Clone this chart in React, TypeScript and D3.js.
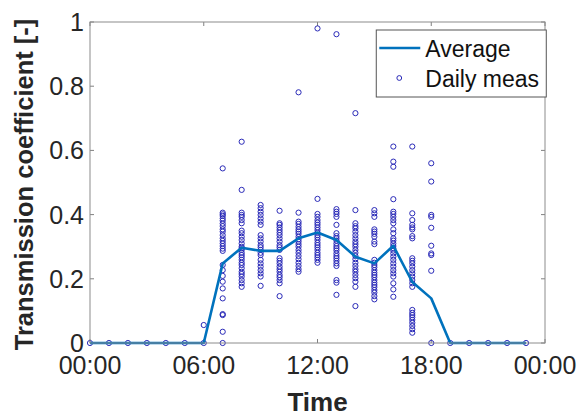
import { useEffect, useRef } from "react";
import * as d3 from "d3";

// hours of the day (0..23)
const hours = d3.range(0, 24);

// hourly average transmission coefficient
const averageValues = [
  0, 0, 0, 0, 0, 0, 0, 0.248, 0.297, 0.287, 0.287, 0.326, 0.344, 0.321, 0.269,
  0.248, 0.303, 0.19, 0.139, 0, 0, 0, 0, 0,
];

// daily measurements per hour
const dailyMeas: number[][] = [
  [0],
  [0],
  [0],
  [0],
  [0],
  [0],
  [0, 0.056],
  [
    0.544, 0.406, 0.401, 0.396, 0.388, 0.381, 0.372, 0.364, 0.354, 0.347, 0.336,
    0.326, 0.318, 0.31, 0.302, 0.294, 0.287, 0.243, 0.227, 0.209, 0.191, 0.17,
    0.139, 0.09, 0.087, 0.035, 0,
  ],
  [
    0.627, 0.477, 0.406, 0.399, 0.393, 0.383, 0.373, 0.35, 0.342, 0.331, 0.321,
    0.31, 0.3, 0.295, 0.29, 0.281, 0.274, 0.267, 0.259, 0.25, 0.243, 0.233,
    0.222, 0.215, 0.207, 0.196, 0.186, 0.175,
  ],
  [
    0.43, 0.42, 0.409, 0.399, 0.388, 0.378, 0.368, 0.336, 0.326, 0.316, 0.305,
    0.298, 0.29, 0.281, 0.274, 0.259, 0.248, 0.238, 0.227, 0.217, 0.207, 0.178,
  ],
  [
    0.412, 0.373, 0.368, 0.36, 0.352, 0.344, 0.336, 0.326, 0.316, 0.305, 0.298,
    0.29, 0.264, 0.256, 0.248, 0.238, 0.23, 0.222, 0.212, 0.205, 0.196, 0.186,
    0.146,
  ],
  [
    0.781, 0.406, 0.378, 0.371, 0.362, 0.354, 0.347, 0.34, 0.331, 0.323, 0.316,
    0.308, 0.3, 0.29, 0.281, 0.271, 0.261, 0.25, 0.24, 0.23, 0.222,
  ],
  [
    0.98, 0.449, 0.402, 0.393, 0.383, 0.375, 0.368, 0.36, 0.352, 0.344, 0.336,
    0.329, 0.321, 0.312, 0.305, 0.298, 0.29, 0.281, 0.274, 0.267, 0.259, 0.25,
  ],
  [
    0.962, 0.417, 0.409, 0.402, 0.393, 0.368, 0.342, 0.333, 0.326, 0.319, 0.31,
    0.302, 0.295, 0.288, 0.279, 0.271, 0.264, 0.256, 0.248, 0.24, 0.196, 0.188,
    0.15,
  ],
  [
    0.716, 0.414, 0.373, 0.364, 0.357, 0.347, 0.336, 0.326, 0.316, 0.308, 0.3,
    0.29, 0.281, 0.271, 0.261, 0.25, 0.24, 0.23, 0.222, 0.212, 0.202, 0.191,
    0.175, 0.115,
  ],
  [
    0.414, 0.404, 0.393, 0.354, 0.347, 0.34, 0.331, 0.316, 0.308, 0.259, 0.25,
    0.243, 0.236, 0.227, 0.219, 0.212, 0.205, 0.196, 0.188, 0.181, 0.174, 0.165,
    0.157, 0.146, 0.136,
  ],
  [
    0.612, 0.565, 0.549, 0.448, 0.409, 0.402, 0.393, 0.383, 0.373, 0.354, 0.342,
    0.326, 0.319, 0.31, 0.302, 0.295, 0.288, 0.279, 0.269, 0.259, 0.248, 0.238,
    0.227, 0.217, 0.207, 0.186, 0.167, 0.144,
  ],
  [
    0.612, 0.404, 0.383, 0.368, 0.36, 0.354, 0.333, 0.326, 0.264, 0.256, 0.248,
    0.238, 0.227, 0.217, 0.207, 0.196, 0.186, 0.175, 0.103, 0.094, 0.087, 0.08,
    0.072, 0.063, 0.053, 0.043, 0.032,
  ],
  [0.56, 0.503, 0.399, 0.393, 0.359, 0.303, 0.279, 0.274, 0.225, 0],
  [0],
  [0],
  [0],
  [0],
  [0],
];

const xTicks = [0, 6, 12, 18, 24];
const xTickLabels = ["00:00", "06:00", "12:00", "18:00", "00:00"];
const yTicks = [0, 0.2, 0.4, 0.6, 0.8, 1];

const FONT = "'Liberation Sans', Arial, sans-serif";
const LINE_BLUE = "#0072bd";
const MARK_BLUE = "#2a2ab8";

const App = () => {
  const chartContainer = useRef<SVGSVGElement>(null);

  useEffect(() => {
    const width = 582;
    const height = 416;
    const margin = { top: 22, right: 37, bottom: 73, left: 90 };
    const innerW = width - margin.left - margin.right;
    const innerH = height - margin.top - margin.bottom;

    const svg = d3.select(chartContainer.current);
    svg.selectAll("*").remove();

    const x = d3.scaleLinear().domain([0, 24]).range([0, innerW]);
    const y = d3.scaleLinear().domain([0, 1]).range([innerH, 0]);

    const g = svg
      .append("g")
      .attr("transform", `translate(${margin.left},${margin.top})`);

    g.append("rect")
      .attr("width", innerW)
      .attr("height", innerH)
      .attr("fill", "#fff");

    // ticks (inside, both sides)
    const tickLen = 4;
    yTicks.forEach((t) => {
      g.append("line")
        .attr("x1", 0)
        .attr("x2", tickLen)
        .attr("y1", y(t))
        .attr("y2", y(t))
        .attr("stroke", "#808080");
      g.append("line")
        .attr("x1", innerW - tickLen)
        .attr("x2", innerW)
        .attr("y1", y(t))
        .attr("y2", y(t))
        .attr("stroke", "#808080");
    });
    xTicks.forEach((t) => {
      g.append("line")
        .attr("x1", x(t))
        .attr("x2", x(t))
        .attr("y1", innerH)
        .attr("y2", innerH - tickLen)
        .attr("stroke", "#808080");
      g.append("line")
        .attr("x1", x(t))
        .attr("x2", x(t))
        .attr("y1", 0)
        .attr("y2", tickLen)
        .attr("stroke", "#808080");
    });

    // tick labels
    g.selectAll(".ylab")
      .data(yTicks)
      .enter()
      .append("text")
      .attr("x", -6)
      .attr("y", (d) => y(d))
      .attr("dy", "0.36em")
      .attr("text-anchor", "end")
      .attr("font-family", FONT)
      .attr("font-size", 25)
      .attr("fill", "#262626")
      .text((d) => String(d));

    g.selectAll(".xlab")
      .data(xTicks)
      .enter()
      .append("text")
      .attr("x", (d) => x(d))
      .attr("y", innerH + 31)
      .attr("text-anchor", "middle")
      .attr("font-family", FONT)
      .attr("font-size", 25)
      .attr("fill", "#262626")
      .text((_, i) => xTickLabels[i]);

    // scatter
    const points = hours.flatMap((h) =>
      dailyMeas[h].map((v) => ({ h, v }))
    );
    g.selectAll(".pt")
      .data(points)
      .enter()
      .append("circle")
      .attr("cx", (d) => x(d.h))
      .attr("cy", (d) => y(d.v))
      .attr("r", 2.6)
      .attr("fill", "none")
      .attr("stroke", MARK_BLUE)
      .attr("stroke-width", 1);

    // average line
    const line = d3
      .line<number>()
      .x((_, i) => x(hours[i]))
      .y((d) => y(d));
    g.append("path")
      .datum(averageValues)
      .attr("d", line)
      .attr("fill", "none")
      .attr("stroke", LINE_BLUE)
      .attr("stroke-width", 2.6)
      .attr("stroke-linejoin", "round");

    // box
    g.append("rect")
      .attr("width", innerW)
      .attr("height", innerH)
      .attr("fill", "none")
      .attr("stroke", "#8c8c8c")
      .attr("stroke-width", 1);

    // legend
    const lg = g.append("g").attr("transform", `translate(${x(15.1)},8)`);
    lg.append("rect")
      .attr("width", 170)
      .attr("height", 67)
      .attr("fill", "#fff")
      .attr("stroke", "#555")
      .attr("stroke-width", 1);
    lg.append("line")
      .attr("x1", 3)
      .attr("x2", 44)
      .attr("y1", 18)
      .attr("y2", 18)
      .attr("stroke", LINE_BLUE)
      .attr("stroke-width", 2.6);
    lg.append("text")
      .attr("x", 49)
      .attr("y", 27)
      .attr("font-family", FONT)
      .attr("font-size", 23)
      .attr("fill", "#111")
      .text("Average");
    lg.append("circle")
      .attr("cx", 23)
      .attr("cy", 48)
      .attr("r", 2.4)
      .attr("fill", "none")
      .attr("stroke", MARK_BLUE)
      .attr("stroke-width", 1);
    lg.append("text")
      .attr("x", 49)
      .attr("y", 57)
      .attr("font-family", FONT)
      .attr("font-size", 23)
      .attr("fill", "#111")
      .text("Daily meas");

    // axis titles
    svg
      .append("text")
      .attr("x", margin.left + innerW / 2)
      .attr("y", 411)
      .attr("text-anchor", "middle")
      .attr("font-family", FONT)
      .attr("font-size", 26)
      .attr("font-weight", "bold")
      .attr("fill", "#262626")
      .text("Time");

    svg
      .append("text")
      .attr("transform", `translate(33,${margin.top + innerH / 2 + 2}) rotate(-90)`)
      .attr("text-anchor", "middle")
      .attr("font-family", FONT)
      .attr("font-size", 25.5)
      .attr("font-weight", "bold")
      .attr("fill", "#262626")
      .text("Transmission coefficient [-]");
  }, []);

  return (
    <svg
      ref={chartContainer}
      width={582}
      height={416}
      style={{ position: "absolute", left: 0, top: 0, background: "#fff" }}
    />
  );
};

export default App;
